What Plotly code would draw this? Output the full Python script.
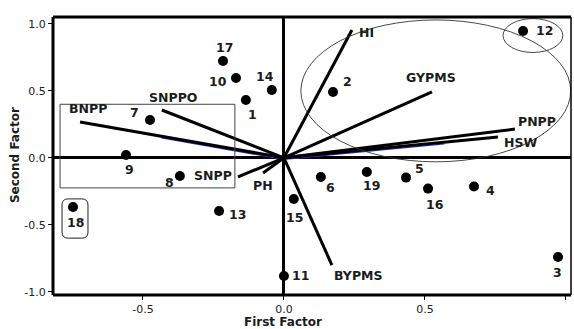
import plotly.graph_objects as go

# Genotype scores on the first two factors
genotypes = ["1", "2", "3", "4", "5", "6", "7", "8", "9", "10",
             "11", "12", "13", "14", "15", "16", "17", "18", "19"]
g_x = [-0.135, 0.174, 0.972, 0.674, 0.433, 0.131, -0.475, -0.369, -0.560, -0.170,
       0.000, 0.848, -0.230, -0.043, 0.035, 0.511, -0.216, -0.748, 0.294]
g_y = [0.432, 0.492, -0.741, -0.215, -0.148, -0.143, 0.282, -0.136, 0.021, 0.596,
       -0.883, 0.948, -0.398, 0.507, -0.308, -0.230, 0.723, -0.368, -0.106]

# Trait loadings on the first two factors
traits = ["HI", "GYPMS", "PNPP", "HSW", "BNPP", "SNPPO", "SNPP", "PH", "BYPMS"]
t_x = [0.241, 0.525, 0.819, 0.759, -0.723, -0.433, -0.163, -0.074, 0.170]
t_y = [0.955, 0.492, 0.215, 0.155, 0.268, 0.357, -0.143, -0.113, -0.801]

x_ticks = [-0.5, 0.0, 0.5, 1.0]
y_ticks = [-1.0, -0.5, 0.0, 0.5, 1.0]

# label offsets in pixels (dx right, dy up)
g_off = {"1": (7, -15), "2": (14, 10), "3": (-1, -16), "4": (16, -4), "5": (13, 9),
         "6": (10, -11), "7": (-16, 8), "8": (-10, -6), "9": (3, -14), "10": (-18, -3),
         "11": (17, 0), "12": (21, 0), "13": (18, -3), "14": (-7, 13), "15": (1, -18),
         "16": (7, -16), "17": (1, 14), "18": (2, -15), "19": (5, -14)}
t_off = {"HI": (15, -3), "GYPMS": (-1, 14), "PNPP": (22, 8), "HSW": (23, -5),
         "BNPP": (8, 13), "SNPPO": (11, 13), "SNPP": (-25, 1), "PH": (0, -13),
         "BYPMS": (27, -10)}

INK = "#1c1c1c"
fig = go.Figure()

# trait vectors from the origin
lx, ly = [], []
for x, y in zip(t_x, t_y):
    lx += [0, x, None]
    ly += [0, y, None]

# faint blue fringe under two of the vectors
for name, frac in (("BNPP", 0.6), ("HSW", 0.75)):
    i = traits.index(name)
    fig.add_trace(go.Scatter(x=[0, t_x[i] * frac], y=[-0.012, t_y[i] * frac - 0.012],
                             mode="lines", line=dict(color="#2a3bd6", width=1.3),
                             hoverinfo="skip", showlegend=False))

fig.add_trace(go.Scatter(x=lx, y=ly, mode="lines",
                         line=dict(color="black", width=3),
                         hoverinfo="skip", showlegend=False))

fig.add_trace(go.Scatter(x=g_x, y=g_y, mode="markers",
                         marker=dict(color="black", size=10),
                         text=genotypes, showlegend=False))

lab_font = dict(family="DejaVu Sans", size=12.5, color=INK, weight="bold")
for name, x, y in zip(genotypes, g_x, g_y):
    dx, dy = g_off[name]
    fig.add_annotation(x=x, y=y, text=name, showarrow=False, xshift=dx, yshift=dy,
                       font=lab_font, xanchor="center", yanchor="middle")
for name, x, y in zip(traits, t_x, t_y):
    dx, dy = t_off[name]
    fig.add_annotation(x=x, y=y, text=name, showarrow=False, xshift=dx, yshift=dy,
                       font=lab_font, xanchor="center", yanchor="middle")

# axis titles
title_font = dict(family="DejaVu Sans", size=12, color=INK, weight="bold")
fig.add_annotation(xref="paper", yref="paper", x=0.444, y=0, yshift=-27,
                   text="First Factor", showarrow=False, font=title_font,
                   borderpad=0, xanchor="center", yanchor="middle")
fig.add_annotation(xref="paper", yref="paper", x=-0.073, y=0.504, text="Second Factor",
                   showarrow=False, font=title_font, textangle=-90, borderpad=0,
                   xanchor="center", yanchor="middle")

shapes = []
# grouping outlines
shapes.append(dict(type="rect", x0=-0.794, x1=-0.174, y0=-0.225, y1=0.40,
                   line=dict(color="#444", width=1)))
rx0, rx1, ry0, ry1, cx, cy = -0.787, -0.695, -0.600, -0.307, 0.022, 0.045
shapes.append(dict(type="path", line=dict(color="#222", width=1),
                   path=(f"M {rx0+cx},{ry1} L {rx1-cx},{ry1} Q {rx1},{ry1} {rx1},{ry1-cy} "
                         f"L {rx1},{ry0+cy} Q {rx1},{ry0} {rx1-cx},{ry0} "
                         f"L {rx0+cx},{ry0} Q {rx0},{ry0} {rx0},{ry0+cy} "
                         f"L {rx0},{ry1-cy} Q {rx0},{ry1} {rx0+cx},{ry1} Z")))
shapes.append(dict(type="circle", x0=0.06, x1=1.017, y0=-0.03, y1=1.03,
                   line=dict(color="#333", width=0.9)))
shapes.append(dict(type="circle", x0=0.777, x1=0.989, y0=0.787, y1=1.04,
                   line=dict(color="#333", width=0.9)))
# plot frame
shapes.append(dict(type="line", xref="paper", yref="paper", x0=0, x1=0, y0=0, y1=1,
                   line=dict(color="black", width=3)))
shapes.append(dict(type="line", xref="paper", yref="paper", x0=0, x1=1, y0=0, y1=0,
                   line=dict(color="black", width=3)))
shapes.append(dict(type="line", xref="paper", yref="paper", x0=0, x1=1, y0=1, y1=1,
                   line=dict(color="black", width=3)))
shapes.append(dict(type="line", xref="paper", yref="paper", x0=1, x1=1, y0=0, y1=1,
                   line=dict(color="black", width=1.5)))

tick_font = dict(family="DejaVu Sans", size=11, color="#222")
fig.update_layout(
    width=574, height=329,
    margin=dict(l=53, r=3, t=17, b=34),
    paper_bgcolor="white", plot_bgcolor="white",
    shapes=shapes,
    xaxis=dict(range=[-0.819, 1.018], tickvals=x_ticks,
               ticktext=[f"{v:.1f}" for v in x_ticks],
               ticks="outside", ticklen=4, tickcolor="black", tickwidth=1,
               showgrid=False, showline=False,
               zeroline=True, zerolinecolor="black", zerolinewidth=3,
               tickfont=tick_font),
    yaxis=dict(range=[-1.025, 1.052], tickvals=y_ticks,
               ticktext=[f"{v:.1f}" for v in y_ticks],
               ticks="outside", ticklen=4, tickcolor="black", tickwidth=1,
               showgrid=False, showline=False,
               zeroline=True, zerolinecolor="black", zerolinewidth=3,
               tickfont=tick_font),
)

fig.write_html("out.html")
